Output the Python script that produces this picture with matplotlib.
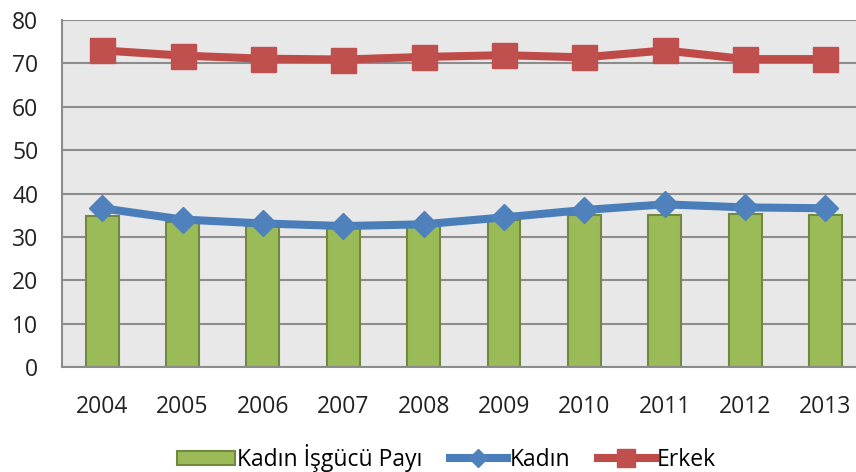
import matplotlib.pyplot as plt
import numpy as np

plt.rcParams['font.family'] = ['Open Sans', 'DejaVu Sans']

# data
years = ['2004', '2005', '2006', '2007', '2008', '2009', '2010', '2011', '2012', '2013']
isgucu_payi = [34.8, 33.5, 32.5, 32.0, 32.5, 34.0, 35.0, 35.0, 35.3, 35.0]
kadin = [36.6, 34.0, 33.1, 32.5, 32.9, 34.5, 36.2, 37.5, 36.8, 36.6]
erkek = [73.0, 71.8, 71.1, 70.9, 71.5, 71.9, 71.4, 73.0, 71.0, 71.0]

x = np.arange(len(years))

fig = plt.figure(figsize=(8.56, 4.72), dpi=100)
ax = fig.add_axes([0.0724, 0.2225, 0.9276, 0.735])
ax.set_facecolor('#E8E8E8')

b = ax.bar(x, isgucu_payi, width=0.41, color='#9BBB59', edgecolor='#71893F',
           linewidth=1.5, label='Kadın İşgücü Payı', zorder=2)
l1, = ax.plot(x, kadin, color='#4A7EBB', lw=5.8, marker='D', ms=13,
              markerfacecolor='#4F81BD', markeredgecolor='#4F81BD',
              label='Kadın', zorder=3)
l2, = ax.plot(x, erkek, color='#BE4B48', lw=5.8, marker='s', ms=18,
              markerfacecolor='#C0504D', markeredgecolor='#C0504D',
              label='Erkek', zorder=3)

ax.set_ylim(0, 80)
ax.set_xlim(-0.5, 9.38)
ax.set_yticks(range(0, 81, 10))
ax.set_xticks(x)
ax.set_xticklabels(years)
ax.yaxis.grid(True, color='#8C8C8C', lw=1.5)
ax.set_axisbelow(True)
ax.tick_params(length=0, labelsize=16.5, colors='#222222')
ax.tick_params(axis='x', pad=20)
ax.tick_params(axis='y', pad=17)

for s in ['top', 'right']:
    ax.spines[s].set_visible(False)
for s in ['left', 'bottom']:
    ax.spines[s].set_color('#8C8C8C')
    ax.spines[s].set_linewidth(1.5)

fig.legend([b, l1, l2], ['Kadın İşgücü Payı', 'Kadın', 'Erkek'],
           loc='center', bbox_to_anchor=(0.522, 0.03), ncol=3, frameon=False,
           fontsize=16.5, handlelength=2.5, handleheight=0.55,
           handletextpad=0.1, columnspacing=1.2, markerscale=0.72)

plt.savefig('out.png')
